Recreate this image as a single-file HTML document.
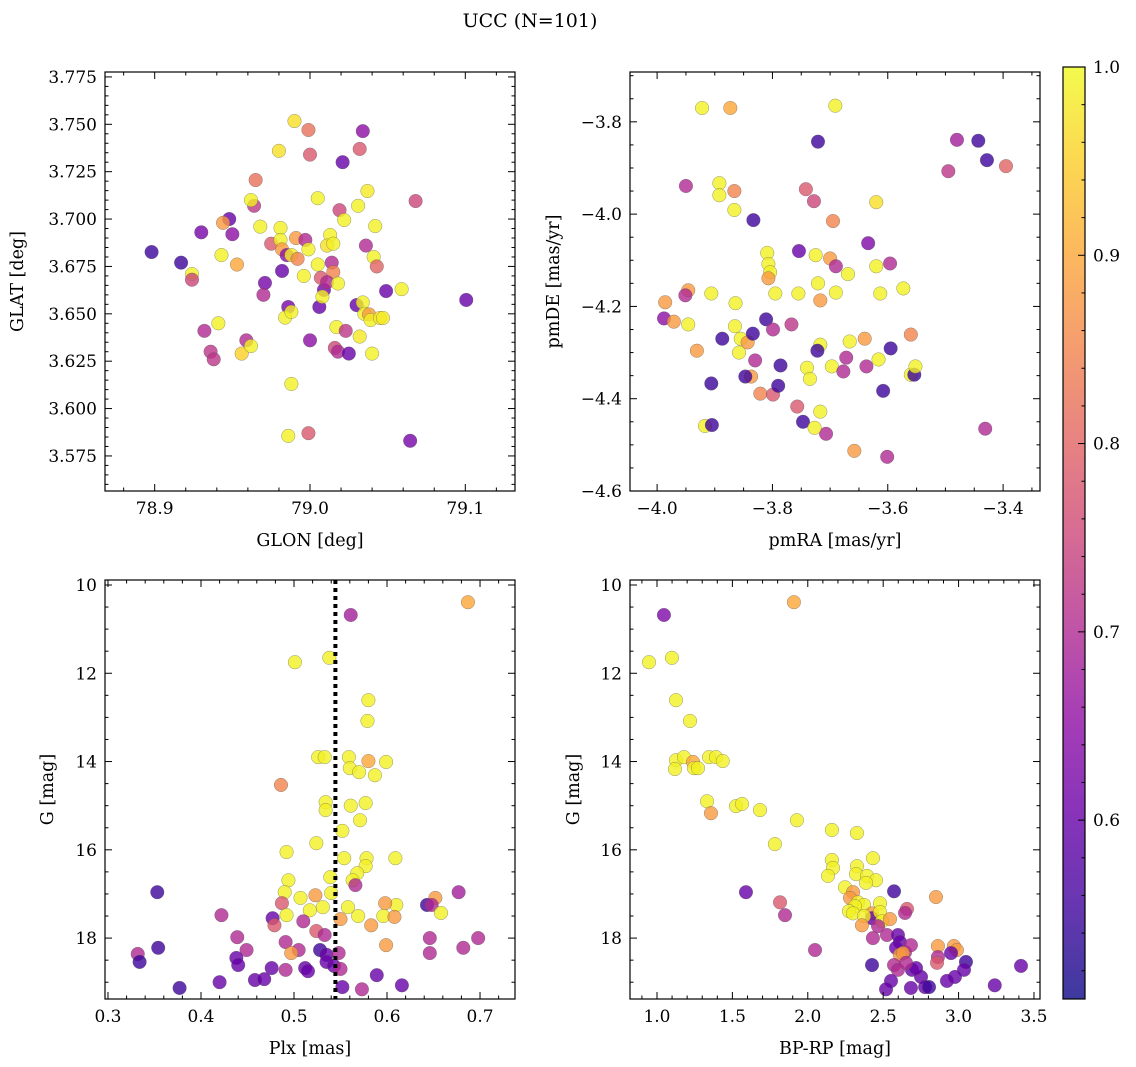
<!DOCTYPE html>
<html><head><meta charset="utf-8">
<style>
html,body{margin:0;padding:0;background:#fff;}
svg{display:block;font-family:"DejaVu Serif","Liberation Serif",serif;}
</style></head>
<body>
<svg id="fig" width="1136" height="1067" viewBox="0 0 1136 1067" xmlns="http://www.w3.org/2000/svg">
<text x="530" y="27" font-size="19" text-anchor="middle">UCC (N=101)</text>
</svg>
<script>
// Panel 1: GLON vs GLAT
const glon=[78.898,78.917,78.924,78.924,78.930,78.948,78.950,78.944,78.943,78.953,78.932,78.936,78.938,78.941,78.956,78.959,78.962,78.965,78.964,78.962,78.968,78.971,78.970,78.975,78.980,78.990,78.999,79.0,78.981,78.981,78.982,78.985,78.988,78.991,78.992,78.982,78.986,78.984,78.988,78.996,78.997,78.999,79.0,78.988,78.986,78.999,79.005,79.005,79.006,79.009,79.008,79.013,79.011,79.015,79.014,79.015,79.007,79.011,79.018,79.017,79.016,79.018,79.021,79.019,79.022,79.023,79.025,79.030,79.031,79.032,79.034,79.037,79.036,79.034,79.035,79.038,79.039,79.032,79.040,79.042,79.041,79.043,79.045,79.047,79.049,79.059,79.0645,79.068,79.1006];
const glat=[3.6826,3.677,3.671,3.668,3.693,3.700,3.692,3.698,3.681,3.676,3.641,3.630,3.626,3.645,3.629,3.636,3.633,3.7206,3.707,3.710,3.696,3.6663,3.660,3.687,3.736,3.7517,3.747,3.734,3.6953,3.689,3.684,3.681,3.681,3.690,3.679,3.6726,3.6536,3.648,3.651,3.670,3.689,3.684,3.636,3.613,3.5856,3.587,3.711,3.676,3.6536,3.6626,3.659,3.6916,3.686,3.687,3.677,3.672,3.669,3.6667,3.666,3.643,3.632,3.630,3.730,3.7047,3.6995,3.641,3.629,3.6546,3.707,3.737,3.7464,3.7148,3.686,3.656,3.650,3.6497,3.6467,3.638,3.629,3.6963,3.680,3.675,3.6478,3.6478,3.662,3.663,3.583,3.7095,3.6573];
const prob1=[.55,.55,.99,.75,.62,.6,.65,.88,.99,.9,.7,.72,.72,.99,.95,.7,.99,.82,.72,.99,.99,.62,.7,.78,.97,.97,.82,.78,.99,.99,.88,.65,.99,.88,.85,.6,.62,.99,.99,.99,.7,.99,.65,.99,.99,.78,.99,.99,.6,.62,.99,.99,.97,.99,.7,.85,.78,.7,.99,.99,.75,.7,.6,.75,.99,.72,.6,.6,.99,.78,.65,.98,.7,.99,.99,.88,.99,.98,.99,.99,.99,.8,.98,.98,.6,.99,.62,.75,.6];
// Panel 2: pmRA vs pmDE
const pmra=[-3.950,-3.922,-3.892,-3.892,-3.866,-3.866,-3.691,-3.873,-3.833,-3.721,-3.480,-3.443,-3.428,-3.395,-3.495,-3.742,-3.728,-3.695,-3.620,-3.754,-3.725,-3.700,-3.690,-3.669,-3.634,-3.620,-3.596,-3.809,-3.807,-3.804,-3.807,-3.795,-3.755,-3.721,-3.690,-3.717,-3.613,-3.573,-3.986,-3.988,-3.971,-3.946,-3.951,-3.906,-3.864,-3.946,-3.931,-3.887,-3.865,-3.855,-3.858,-3.843,-3.834,-3.811,-3.799,-3.767,-3.830,-3.837,-3.847,-3.906,-3.821,-3.799,-3.790,-3.786,-3.740,-3.735,-3.717,-3.722,-3.757,-3.747,-3.717,-3.707,-3.727,-3.917,-3.905,-3.697,-3.672,-3.677,-3.666,-3.640,-3.637,-3.616,-3.608,-3.595,-3.560,-3.554,-3.560,-3.552,-3.658,-3.601,-3.431];
const pmde=[-3.939,-3.770,-3.933,-3.959,-3.950,-3.991,-3.765,-3.770,-4.013,-3.843,-3.839,-3.841,-3.883,-3.896,-3.907,-3.946,-3.972,-4.015,-3.974,-4.080,-4.089,-4.096,-4.113,-4.130,-4.063,-4.113,-4.107,-4.084,-4.108,-4.126,-4.139,-4.172,-4.172,-4.150,-4.170,-4.187,-4.172,-4.161,-4.191,-4.226,-4.233,-4.165,-4.176,-4.172,-4.193,-4.239,-4.296,-4.270,-4.243,-4.270,-4.300,-4.278,-4.259,-4.228,-4.250,-4.239,-4.317,-4.352,-4.352,-4.367,-4.389,-4.391,-4.372,-4.328,-4.333,-4.357,-4.283,-4.296,-4.417,-4.450,-4.428,-4.476,-4.463,-4.459,-4.457,-4.330,-4.311,-4.341,-4.276,-4.270,-4.330,-4.315,-4.383,-4.291,-4.348,-4.348,-4.261,-4.330,-4.513,-4.526,-4.465];
const prob2=[.7,.99,.99,.99,.85,.99,.99,.9,.55,.55,.68,.55,.55,.8,.72,.78,.75,.85,.97,.6,.99,.88,.7,.99,.63,.99,.7,.99,.99,.99,.88,.99,.99,.99,.99,.88,.99,.99,.88,.65,.88,.88,.7,.99,.99,.99,.88,.55,.99,.99,.99,.88,.55,.55,.7,.72,.7,.88,.55,.55,.85,.78,.55,.55,.99,.99,.99,.55,.78,.55,.99,.7,.99,.99,.55,.99,.7,.7,.99,.88,.7,.99,.55,.55,.99,.55,.85,.99,.88,.7,.7];
// Panel 3: Plx vs G
const plx=[0.687,0.561,0.501,0.538,0.580,0.579,0.526,0.533,0.559,0.560,0.570,0.580,0.599,0.587,0.486,0.534,0.534,0.561,0.577,0.571,0.552,0.524,0.492,0.554,0.578,0.577,0.568,0.563,0.539,0.494,0.609,0.490,0.507,0.540,0.566,0.523,0.353,0.677,0.652,0.643,0.648,0.658,0.610,0.598,0.596,0.608,0.558,0.550,0.531,0.517,0.510,0.477,0.479,0.487,0.492,0.422,0.569,0.583,0.524,0.533,0.439,0.646,0.698,0.354,0.332,0.334,0.449,0.491,0.505,0.497,0.528,0.535,0.548,0.599,0.646,0.682,0.535,0.543,0.438,0.440,0.476,0.512,0.515,0.491,0.550,0.589,0.458,0.468,0.420,0.377,0.552,0.573,0.616];
const gmag3=[10.39,10.68,11.75,11.65,12.61,13.08,13.90,13.90,13.90,14.15,14.24,13.99,14.01,14.31,14.53,14.92,15.10,15.0,14.94,15.33,15.57,15.85,16.05,16.19,16.19,16.37,16.53,16.69,16.62,16.69,16.19,16.96,17.09,16.98,16.80,17.03,16.96,16.96,17.09,17.25,17.25,17.43,17.25,17.21,17.50,17.52,17.30,17.57,17.30,17.37,17.62,17.55,17.71,17.21,17.48,17.48,17.50,17.71,17.84,17.93,17.98,18.00,18.00,18.22,18.36,18.54,18.27,18.09,18.27,18.34,18.27,18.38,18.34,18.16,18.34,18.22,18.54,18.63,18.45,18.61,18.68,18.68,18.75,18.72,18.70,18.84,18.95,18.93,19.0,19.13,19.11,19.16,19.07];
const prob3=[.9,.68,.99,.99,.99,.99,.99,.99,.99,.99,.99,.9,.99,.99,.85,.99,.99,.99,.99,.99,.99,.99,.99,.99,.99,.99,.99,.99,.99,.99,.99,.99,.99,.99,.7,.88,.55,.68,.88,.55,.7,.99,.99,.88,.99,.88,.99,.88,.99,.99,.7,.6,.78,.78,.99,.7,.99,.88,.78,.7,.7,.7,.7,.55,.7,.55,.7,.7,.7,.88,.55,.6,.7,.88,.7,.7,.6,.6,.6,.6,.6,.6,.6,.7,.7,.6,.6,.6,.6,.55,.6,.7,.6];
// Panel 4: BP-RP vs G
const bprp=[1.046,1.908,0.947,1.099,1.126,1.219,1.126,1.179,1.119,1.239,1.245,1.272,1.345,1.391,1.436,1.332,1.358,1.524,1.564,1.683,1.928,1.782,2.160,2.326,2.432,2.160,2.326,2.167,2.134,2.320,2.393,2.452,2.247,2.386,2.300,2.280,2.333,2.373,2.313,2.273,2.479,2.572,2.300,2.426,2.426,2.373,2.479,2.492,2.545,2.466,2.359,2.658,2.645,2.850,1.590,1.816,1.849,2.432,2.525,2.598,2.611,2.585,2.645,2.684,2.611,2.631,2.863,2.969,2.989,2.863,2.857,2.950,3.049,3.036,2.976,2.923,3.414,2.048,2.426,2.572,2.598,2.691,2.751,2.718,2.778,2.804,2.552,2.519,2.684,3.240,2.651];
const gmag4=[10.68,10.39,11.75,11.65,12.61,13.08,13.97,13.90,14.17,14.01,14.15,14.15,13.90,13.90,13.99,14.90,15.17,15.01,14.96,15.10,15.33,15.87,15.55,15.62,16.19,16.23,16.37,16.41,16.59,16.55,16.59,16.69,16.85,16.75,16.96,17.09,17.19,17.25,17.28,17.39,17.21,16.94,17.44,17.44,17.55,17.50,17.41,17.62,17.57,17.73,17.71,17.34,17.43,17.07,16.96,17.19,17.48,18.00,17.93,17.93,18.09,18.22,18.32,18.16,18.38,18.34,18.18,18.18,18.27,18.43,18.56,18.34,18.54,18.72,18.88,18.97,18.63,18.27,18.61,18.61,18.72,18.72,18.88,18.68,19.11,19.11,18.97,19.16,19.13,19.07,18.56];
const prob4=[.63,.9,.99,.99,.99,.99,.99,.99,.99,.9,.99,.99,.99,.99,.99,.99,.88,.99,.99,.99,.99,.99,.99,.99,.99,.99,.99,.99,.99,.99,.99,.99,.99,.99,.88,.88,.99,.99,.99,.99,.99,.55,.99,.88,.6,.99,.99,.99,.88,.7,.88,.78,.7,.88,.6,.78,.7,.7,.7,.6,.6,.6,.7,.7,.88,.88,.88,.88,.88,.7,.78,.6,.55,.6,.6,.6,.6,.7,.55,.7,.7,.6,.6,.6,.6,.55,.6,.6,.6,.6,.7];
const plxMedian=0.5445;
const cbTicks=[0.6,0.7,0.8,0.9,1.0];

const NS="http://www.w3.org/2000/svg";
const fig=document.getElementById('fig');
const VMIN=0.505,VMAX=1.0;
const stops=["#0d0887","#41049d","#6a00a8","#8f0da4","#b12a90","#cc4778","#e16462","#f2844b","#fca636","#fcce25","#f0f921"];
function hex(h){return [1,3,5].map(i=>parseInt(h.substr(i,2),16));}
function plasma(t){t=Math.max(0,Math.min(1,t));const f=t*10,i=Math.min(9,Math.floor(f)),r=f-i;const a=hex(stops[i]),b=hex(stops[i+1]);return 'rgb('+a.map((v,k)=>Math.round(v+(b[k]-v)*r)).join(',')+')';}
function el(tag,attrs,parent){const e=document.createElementNS(NS,tag);for(const k in attrs)e.setAttribute(k,attrs[k]);(parent||fig).appendChild(e);return e;}
function fmt(v,d){let s=v.toFixed(d);if(v<0)s='\u2212'+(-v).toFixed(d);return s;}

function panel(o){
  const g=el('g',{});
  
  
  const L=o.box[0],T=o.box[1],R=o.box[2],B=o.box[3];
  const sx=v=>L+(v-o.xlim[0])/(o.xlim[1]-o.xlim[0])*(R-L);
  const sy=v=>T+(v-o.ylim[0])/(o.ylim[1]-o.ylim[0])*(B-T);
  const pg=el('g',{},g);
  
  
  for(let i=0;i<o.x.length;i++){
    const c=el('circle',{cx:sx(o.x[i]),cy:sy(o.y[i]),r:6.8,fill:plasma((o.p[i]-VMIN)/(VMAX-VMIN)),'fill-opacity':0.8,stroke:'#555','stroke-opacity':0.6,'stroke-width':0.5},pg);
    
    
  }
  if(o.vline!==undefined){
    const ln=el('line',{x1:sx(o.vline),x2:sx(o.vline),y1:T,y2:B,stroke:'#000','stroke-width':4,'stroke-dasharray':'4,4'},g);
    
    
  }
  const xmin=Math.min(...o.xlim),xmax=Math.max(...o.xlim),ymin=Math.min(...o.ylim),ymax=Math.max(...o.ylim);
  const tk=el('g',{stroke:'#000','stroke-width':1},g);
  
  
  const ms=o.xmaj/o.xdiv;
  for(let k=Math.ceil(xmin/ms-1e-6);k*ms<=xmax+1e-9;k++){
    const v=k*ms,x=sx(v),maj=Math.abs(k%o.xdiv)===0,len=maj?7:3.5;
    el('line',{x1:x,x2:x,y1:B,y2:B-len},tk);el('line',{x1:x,x2:x,y1:T,y2:T+len},tk);
    if(maj){const t=el('text',{x:x,y:B+23,'font-size':17,'text-anchor':'middle',stroke:'none',fill:'#000'},g);t.textContent=fmt(v,o.xdec);}
  }
  const ys=o.ymaj/o.ydiv;
  for(let k=Math.ceil(ymin/ys-1e-6);k*ys<=ymax+1e-9;k++){
    const v=k*ys,y=sy(v),maj=Math.abs(k%o.ydiv)===0,len=maj?7:3.5;
    el('line',{x1:L,x2:L+len,y1:y,y2:y},tk);el('line',{x1:R,x2:R-len,y1:y,y2:y},tk);
    if(maj){const t=el('text',{x:L-8,y:y+6,'font-size':17,'text-anchor':'end',stroke:'none',fill:'#000'},g);t.textContent=fmt(v,o.ydec);}
  }
  const fr=el('rect',{x:L,y:T,width:R-L,height:B-T,fill:'none',stroke:'#000','stroke-width':1.2},g);
  
  
  const xl=el('text',{x:(L+R)/2,y:B+55,'font-size':17.5,'text-anchor':'middle'},g);xl.textContent=o.xlabel;
  
  
  const yl=el('text',{x:0,y:0,'font-size':17.5,'text-anchor':'middle',transform:`translate(${o.ylx},${(T+B)/2}) rotate(-90)`},g);yl.textContent=o.ylabel;
  
  
}

panel({name:'glon-glat-panel',box:[105,72,515,491],x:glon,y:glat,p:prob1,xlim:[78.868,79.132],ylim:[3.7776,3.5565],xmaj:0.1,xdiv:5,ymaj:0.025,ydiv:5,xdec:1,ydec:3,xlabel:'GLON [deg]',ylabel:'GLAT [deg]',ylx:23});
panel({name:'pm-panel',box:[630,72,1040,491],x:pmra,y:pmde,p:prob2,xlim:[-4.047,-3.336],ylim:[-3.692,-4.6],xmaj:0.2,xdiv:4,ymaj:0.2,ydiv:4,xdec:1,ydec:1,xlabel:'pmRA [mas/yr]',ylabel:'pmDE [mas/yr]',ylx:559});
panel({name:'plx-g-panel',box:[105,580,515,999],x:plx,y:gmag3,p:prob3,xlim:[0.2968,0.7376],ylim:[9.887,19.38],xmaj:0.1,xdiv:5,ymaj:2,ydiv:4,xdec:1,ydec:0,xlabel:'Plx [mas]',ylabel:'G [mag]',ylx:53,vline:plxMedian});
panel({name:'cmd-panel',box:[630,580,1040,999],x:bprp,y:gmag4,p:prob4,xlim:[0.821,3.54],ylim:[9.887,19.38],xmaj:0.5,xdiv:5,ymaj:2,ydiv:4,xdec:1,ydec:0,xlabel:'BP-RP [mag]',ylabel:'G [mag]',ylx:579});

(function(){
  const L=1063,R=1085,T=67,B=999;
  const cy=v=>B-(v-VMIN)/(VMAX-VMIN)*(B-T);
  const g=el('g',{});
  
  
  const defs=el('defs',{},g);
  const lg=el('linearGradient',{id:'pl',x1:0,y1:1,x2:0,y2:0},defs);
  stops.forEach((s,i)=>{el('stop',{offset:i/10,'stop-color':s},lg);});
  el('rect',{x:L,y:T,width:R-L,height:B-T,fill:'url(#pl)','fill-opacity':0.8},g);
  el('rect',{x:L,y:T,width:R-L,height:B-T,fill:'none',stroke:'#000','stroke-width':1.2},g);
  for(let k=Math.ceil(VMIN/0.02);k*0.02<=VMAX+1e-9;k++){
    const v=k*0.02,y=cy(v),maj=k%5===0;
    el('line',{x1:R,x2:R-(maj?7:3.5),y1:y,y2:y,stroke:'#000'},g);
  }
  cbTicks.forEach(v=>{
    const t=el('text',{x:R+8,y:cy(v)+6,'font-size':17},g);t.textContent=v.toFixed(1);
    
    
  });
})();
</script>
</body></html>
